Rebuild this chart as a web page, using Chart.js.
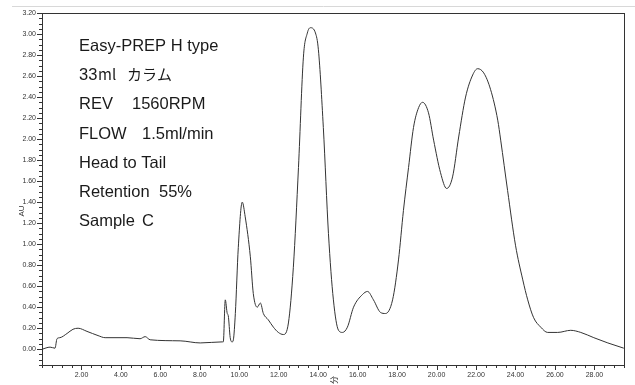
<!DOCTYPE html>
<html><head><meta charset="utf-8">
<script src="https://cdn.jsdelivr.net/npm/chart.js@4/dist/chart.umd.min.js"></script>
<style>html,body{margin:0;padding:0;background:#fff}#wrap{width:635px;height:385px;position:relative}</style>
</head><body><div id="wrap"><canvas id="c" width="635" height="385"></canvas></div>
<script>
// Retention time (min)
const times = [0,0.41,0.66,0.76,0.91,1.27,1.57,1.83,2.28,2.84,3.2,4.31,4.97,5.23,5.48,7.0,8.02,9.14,9.19,9.29,9.39,9.44,9.54,9.64,9.7,9.8,9.95,10.15,10.3,10.56,10.71,10.91,11.07,11.22,11.47,11.73,11.98,12.23,12.49,12.74,13.0,13.25,13.45,13.6,13.86,14.01,14.26,14.52,14.77,15.03,15.23,15.48,15.79,16.24,16.5,16.8,17.16,17.41,17.77,18.07,18.32,18.58,18.83,19.09,19.29,19.59,19.85,20.2,20.51,20.81,21.12,21.47,21.83,22.08,22.39,22.74,23.1,23.25,23.6,24.0,24.37,24.62,24.92,25.28,25.63,26.14,26.8,27.31,27.97,28.68,29.49];
// Absorbance (AU)
const absorbance = [0,0.02,0.01,0.10,0.11,0.15,0.19,0.20,0.17,0.13,0.11,0.11,0.10,0.12,0.09,0.08,0.06,0.07,0.07,0.47,0.34,0.32,0.11,0.07,0.09,0.34,0.97,1.40,1.26,0.88,0.53,0.40,0.44,0.34,0.28,0.21,0.16,0.14,0.25,0.78,1.73,2.78,3.01,3.06,3.01,2.85,2.11,1.10,0.47,0.18,0.16,0.21,0.40,0.52,0.55,0.47,0.35,0.34,0.47,0.85,1.32,1.73,2.11,2.30,2.35,2.25,1.99,1.68,1.53,1.64,2.02,2.40,2.61,2.67,2.63,2.47,2.18,1.99,1.51,0.99,0.66,0.47,0.30,0.21,0.16,0.16,0.18,0.16,0.11,0.06,0.01];
// Axis ticks
const xLabelTicks = [2,4,6,8,10,12,14,16,18,20,22,24,26,28];
const xMinorStep = 0.5;
const yLabelTicks = [0,0.2,0.4,0.6,0.8,1.0,1.2,1.4,1.6,1.8,2.0,2.2,2.4,2.6,2.8,3.0,3.2];
const yMinorStep = 0.05;
const xRange = [0, 29.5];
const yRange = [-0.15, 3.2];
// Annotation text
const noteLines = [
  [["Easy-PREP H type", 79, "latin"]],
  [["33", 79, "latin"], ["ml", 98, "cjk"], ["カラム", 127, "cjk"]],
  [["REV", 79, "latin"], ["1560RPM", 132, "latin"]],
  [["FLOW", 79, "latin"], ["1.5ml/min", 142, "latin"]],
  [["Head to Tail", 79, "latin"]],
  [["Retention", 79, "latin"], ["55%", 159, "latin"]],
  [["Sample", 79, "latin"], ["C", 142, "latin"]]
];

const points = times.map((t, i) => ({x: t, y: absorbance[i]}));

function buildTicks(min, max, step) {
  const out = [];
  const n = Math.round((max - min) / step);
  for (let i = 0; i <= n; i++) out.push({value: +(min + i * step).toFixed(4)});
  return out;
}
function isLabel(v, arr) { return arr.some(a => Math.abs(a - v) < 1e-6); }

const decor = {
  id: 'decor',
  afterDraw(chart) {
    const ctx = chart.ctx, ca = chart.chartArea;
    const xs = chart.scales.x, ys = chart.scales.y;
    ctx.save();
    ctx.strokeStyle = '#d8d8d8'; ctx.lineWidth = 1;
    ctx.beginPath(); ctx.moveTo(12, 6.5); ctx.lineTo(635, 6.5); ctx.stroke();
    ctx.strokeStyle = '#333'; ctx.lineWidth = 1;
    ctx.strokeRect(Math.round(ca.left) + 0.5, Math.round(ca.top) + 0.5, Math.round(ca.right - ca.left), Math.round(ca.bottom - ca.top));
    ctx.beginPath();
    xs.ticks.forEach(t => {
      const px = Math.round(xs.getPixelForValue(t.value)) + 0.5;
      const len = isLabel(t.value, xLabelTicks) ? 5 : 3;
      ctx.moveTo(px, ca.bottom); ctx.lineTo(px, ca.bottom + len);
    });
    ys.ticks.forEach(t => {
      const py = Math.round(ys.getPixelForValue(t.value)) + 0.5;
      const len = isLabel(t.value, yLabelTicks) ? 5 : 3;
      ctx.moveTo(ca.left, py); ctx.lineTo(ca.left - len, py);
    });
    ctx.stroke();
    ctx.fillStyle = '#333';
    ctx.font = '8px "Liberation Sans", Arial, sans-serif';
    ctx.save(); ctx.translate(22, 211); ctx.rotate(-Math.PI / 2);
    ctx.textAlign = 'center'; ctx.textBaseline = 'middle'; ctx.fillText('AU', 0, 0); ctx.restore();
    ctx.save(); ctx.translate(334, 380); ctx.rotate(-Math.PI / 2);
    ctx.font = '8px "Noto Sans CJK JP", sans-serif';
    ctx.textAlign = 'center'; ctx.textBaseline = 'middle'; ctx.fillText('分', 0, 0); ctx.restore();
    ctx.fillStyle = '#1a1a1a'; ctx.textBaseline = 'alphabetic'; ctx.textAlign = 'left';
    noteLines.forEach((line, i) => {
      const base = 51 + i * 29.2;
      line.forEach(([txt, x, kind]) => {
        ctx.font = kind === 'cjk' ? '15px "Noto Sans CJK JP", sans-serif' : '16.5px "Liberation Sans", Arial, sans-serif';
        ctx.fillText(txt, x, base);
      });
    });
    ctx.restore();
  }
};

new Chart(document.getElementById('c'), {
  type: 'line',
  data: { datasets: [{ data: points, borderColor: '#333', borderWidth: 1, pointRadius: 0, cubicInterpolationMode: 'monotone', fill: false }] },
  options: {
    responsive: false, animation: false,
    layout: { padding: { top: 13, right: 11, left: 0, bottom: 0 } },
    plugins: { legend: { display: false }, tooltip: { enabled: false } },
    scales: {
      x: {
        type: 'linear', min: xRange[0], max: xRange[1],
        afterBuildTicks: s => { s.ticks = buildTicks(xRange[0], xRange[1], xMinorStep); },
        afterFit: s => { s.height = 20; },
        grid: { display: false, drawTicks: true, tickLength: 5 },
        border: { display: false },
        ticks: { autoSkip: false, maxRotation: 0, padding: 1, color: '#333',
          font: { size: 7, family: '"Liberation Sans", Arial, sans-serif' },
          callback: v => isLabel(v, xLabelTicks) ? v.toFixed(2) : '' }
      },
      y: {
        type: 'linear', min: yRange[0], max: yRange[1],
        afterBuildTicks: s => { s.ticks = buildTicks(yRange[0], yRange[1], yMinorStep); },
        afterFit: s => { s.width = 42; },
        grid: { display: false, drawTicks: true, tickLength: 5 },
        border: { display: false },
        ticks: { autoSkip: false, padding: 1, color: '#333',
          font: { size: 7, family: '"Liberation Sans", Arial, sans-serif' },
          callback: v => isLabel(v, yLabelTicks) ? v.toFixed(2) : '' }
      }
    }
  },
  plugins: [decor]
});
</script></body></html>
